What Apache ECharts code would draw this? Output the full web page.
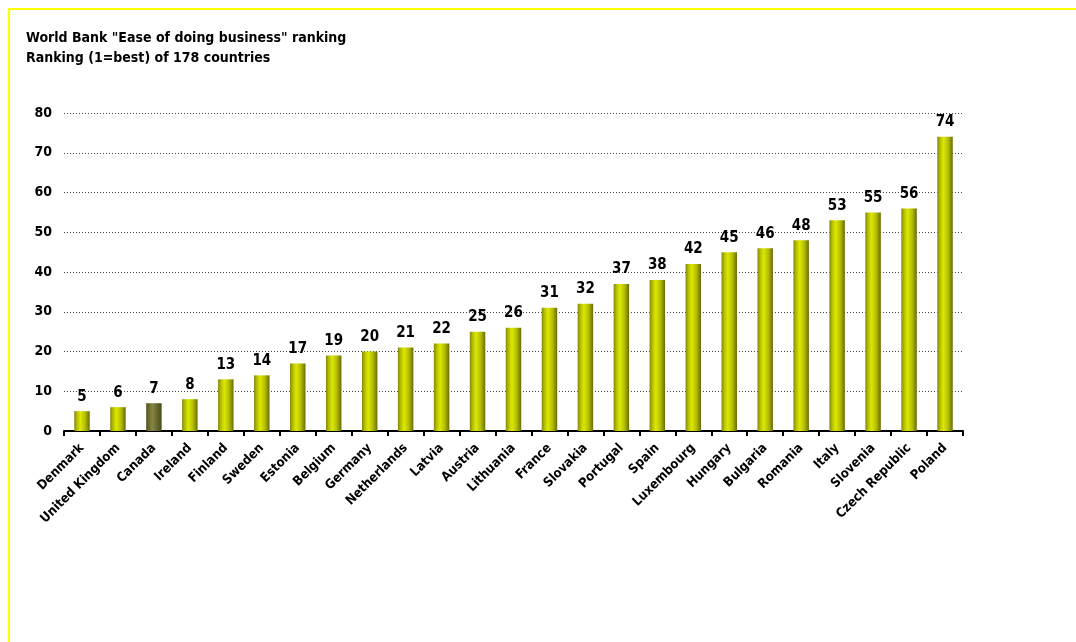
<!DOCTYPE html>
<html>
<head>
<meta charset="utf-8">
<script src="https://cdn.jsdelivr.net/npm/echarts@6/dist/echarts.min.js"></script>
<style>
  html, body { margin: 0; padding: 0; background: #fff; }
  #chart { width: 1076px; height: 642px; }
</style>
</head>
<body>
<div id="chart"></div>
<script>
const countries = ['Denmark', 'United Kingdom', 'Canada', 'Ireland', 'Finland', 'Sweden', 'Estonia', 'Belgium',
  'Germany', 'Netherlands', 'Latvia', 'Austria', 'Lithuania', 'France', 'Slovakia', 'Portugal', 'Spain',
  'Luxembourg', 'Hungary', 'Bulgaria', 'Romania', 'Italy', 'Slovenia', 'Czech Republic', 'Poland'];
const ranking = [5, 6, 7, 8, 13, 14, 17, 19, 20, 21, 22, 25, 26, 31, 32, 37, 38, 42, 45, 46, 48, 53, 55, 56, 74];
const highlighted = 'Canada';

const barFill = new echarts.graphic.LinearGradient(0, 0, 1, 0, [
  {offset: 0, color: '#86860e'},
  {offset: 0.2, color: '#b8c400'},
  {offset: 0.4, color: '#dce800'},
  {offset: 0.7, color: '#b4be00'},
  {offset: 1, color: '#6a6a08'}
]);
const darkFill = new echarts.graphic.LinearGradient(0, 0, 1, 0, [
  {offset: 0, color: '#54541e'},
  {offset: 0.4, color: '#868644'},
  {offset: 1, color: '#4a4a1a'}
]);

const chart = echarts.init(document.getElementById('chart'));

const font = 'DejaVu Sans Condensed';

chart.setOption({
  animation: false,
  graphic: [
    {type: 'rect', shape: {x: 9, y: 9, width: 1070, height: 640}, style: {fill: 'none', stroke: '#ffff00', lineWidth: 2}}
  ],
  title: {
    text: 'World Bank "Ease of doing business" ranking\nRanking (1=best) of 178 countries',
    left: 26, top: 28, padding: 0,
    textStyle: {fontFamily: font, fontSize: 14, fontWeight: 'bold', color: '#000', lineHeight: 20}
  },
  grid: {left: 64, right: 113, top: 113, bottom: 211},
  xAxis: {
    type: 'category',
    data: countries,
    axisLine: {lineStyle: {color: '#000', width: 2}},
    axisTick: {show: true, length: 5, lineStyle: {color: '#000', width: 2}},
    axisLabel: {
      rotate: 45, interval: 0, margin: 15,
      fontFamily: font, fontSize: 13, fontWeight: 'bold', color: '#000'
    }
  },
  yAxis: {
    type: 'value',
    min: 0, max: 80, interval: 10,
    axisLine: {show: false},
    axisTick: {show: false},
    axisLabel: {fontFamily: font, fontSize: 14, fontWeight: 'bold', color: '#000', margin: 12},
    splitLine: {lineStyle: {color: '#444', type: [1, 2], width: 1}}
  },
  series: [{
    type: 'bar',
    barWidth: '43%',
    data: ranking.map((v, i) => ({
      value: v,
      itemStyle: {color: countries[i] === highlighted ? darkFill : barFill}
    })),
    label: {
      show: true, position: 'top', distance: 7,
      fontFamily: font, fontSize: 15, fontWeight: 'bold', color: '#000'
    }
  }]
});
</script>
</body>
</html>
